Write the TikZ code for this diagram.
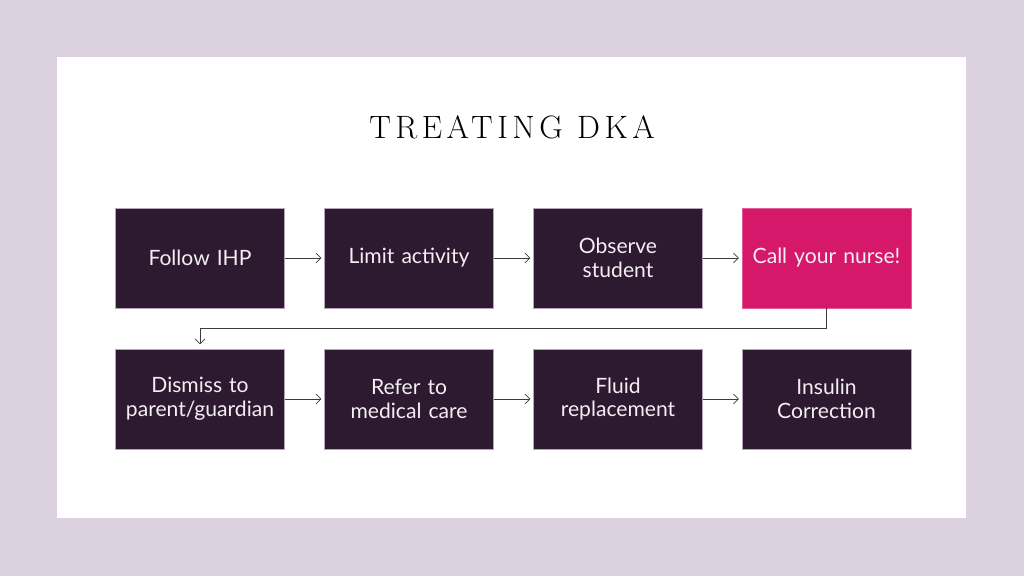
\documentclass[tikz,border=0pt]{standalone}
\usepackage{fontspec}
\usetikzlibrary{arrows.meta}
\newfontfamily\boxfont{Lato}
\newfontfamily\titlefont[LetterSpace=14]{Latin Modern Roman}
\definecolor{bglav}{HTML}{DCD1DE}
\definecolor{boxdark}{HTML}{2E1A30}
\definecolor{boxpink}{HTML}{D5186A}
\definecolor{boxedge}{HTML}{B8A4BA}
\definecolor{boxtext}{HTML}{F4EEF4}
\definecolor{linegray}{HTML}{3C3C3C}
\begin{document}
\begin{tikzpicture}[x=0.025cm,y=-0.025cm,
	stepbox/.style={draw=boxedge,line width=0.4pt,fill=boxdark,text=boxtext,minimum width=4.22cm,minimum height=2.5cm,text width=4.1cm,align=center,inner sep=0pt,font=\boxfont\fontsize{15}{17}\selectfont},
	flow/.style={draw=linegray,line width=0.6pt,-{Straight Barb[length=3.5pt,width=7pt]},shorten >=2pt}]
	% background and panel
	\fill[bglav] (0,0) rectangle (1024,576);
	\fill[white] (57,57) rectangle (966,518);
	\node (title) at (512,127) {\titlefont\fontsize{23}{26}\selectfont TREATING DKA};
	% first row
	\node[stepbox] (ihp) at (200,258) {Follow IHP};
	\node[stepbox] (limit) at (409,258) {Limit activity};
	\node[stepbox] (observe) at (618,258) {Observe\\student};
	\node[stepbox,fill=boxpink,draw=boxpink!70!white] (nurse) at (826.5,258) {Call your nurse!};
	% second row
	\node[stepbox] (dismiss) at (200,399) {Dismiss to\\parent/guardian};
	\node[stepbox] (refer) at (409,399) {Refer to\\medical care};
	\node[stepbox] (fluid) at (618,399) {Fluid\\replacement};
	\node[stepbox] (insulin) at (826.5,399) {Insulin\\Correction};
	% arrows
	\draw[flow] (ihp) -- (limit);
	\draw[flow] (limit) -- (observe);
	\draw[flow] (observe) -- (nurse);
	\draw[flow,shorten >=3pt] (nurse.south) -- ++(0,20) -| (dismiss.north);
	\draw[flow] (dismiss) -- (refer);
	\draw[flow] (refer) -- (fluid);
	\draw[flow] (fluid) -- (insulin);
\end{tikzpicture}
\end{document}
